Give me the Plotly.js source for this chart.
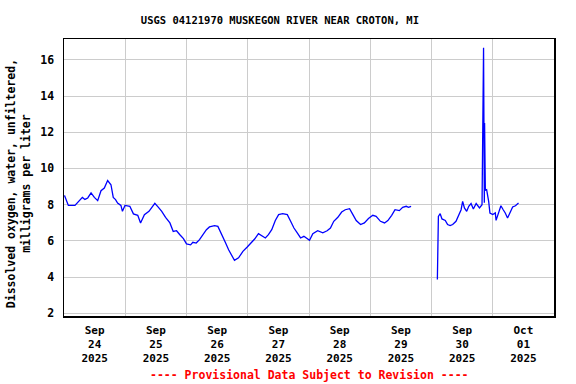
<!DOCTYPE html>
<html>
<head>
<meta charset="utf-8">
<script src="https://cdn.plot.ly/plotly-3.0.1.min.js"></script>
<style>html,body{margin:0;padding:0;background:#fff;}#chart{width:576px;height:384px;}</style>
</head>
<body>
<div id="chart"></div>
<script>
// Hours since 2025-09-24 00:00 and dissolved oxygen (mg/L)
const hours1 = [0.2,1.7,4.3,5.6,7.2,8.2,9.3,10.6,11.9,13.2,14.5,15.8,17.1,18.4,19.3,20.2,21.0,22.3,22.9,23.9,25.8,27.2,28.9,30.0,31.5,33.3,34.6,35.6,37.0,38.3,39.8,41.5,42.8,44.1,45.4,46.8,48.0,49.6,50.5,51.8,53.1,54.4,55.8,57.0,59.0,60.3,61.6,63.2,64.5,65.8,66.8,68.4,70.1,71.8,73.4,74.7,76.2,77.5,78.9,80.1,81.4,82.8,84.1,85.7,87.5,88.8,90.1,91.4,92.7,94.0,95.3,96.2,97.5,99.4,101.4,103.1,104.4,105.7,107.3,108.8,110.2,111.9,113.2,114.5,116.2,117.7,119.3,121.0,122.3,124.0,125.6,126.9,128.4,129.7,131.4,132.7,134.1,135.0,136.0];
const values1 = [8.51,7.96,7.96,8.18,8.40,8.29,8.37,8.65,8.40,8.22,8.77,8.92,9.33,9.10,8.40,8.28,8.09,7.96,7.63,7.96,7.91,7.49,7.41,6.99,7.45,7.63,7.85,8.07,7.85,7.63,7.30,6.99,6.52,6.56,6.34,6.12,5.83,5.78,5.92,5.88,6.07,6.34,6.62,6.77,6.84,6.80,6.44,5.92,5.51,5.14,4.92,5.06,5.42,5.66,5.88,6.10,6.40,6.29,6.16,6.34,6.62,7.13,7.45,7.50,7.45,7.08,6.71,6.44,6.16,6.25,6.10,6.03,6.40,6.56,6.44,6.56,6.71,7.08,7.30,7.59,7.72,7.78,7.45,7.12,6.90,6.99,7.23,7.41,7.35,7.08,6.99,7.12,7.41,7.72,7.67,7.85,7.91,7.85,7.91];
const hours2 = [146.3,146.5,146.7,147.4,148.1,149.4,150.3,151.3,152.3,153.6,154.6,155.6,156.2,156.9,157.8,158.6,159.5,160.4,161.5,162.8,163.8,164.4,164.7,164.8,165.1,165.6,166.4,166.9,168.0,169.0,169.3,170.3,171.2,172.1,172.9,173.8,174.8,175.8,176.9,178.1];
const values2 = [3.86,5.61,7.35,7.50,7.21,7.13,6.90,6.84,6.90,7.08,7.45,7.72,8.18,7.82,7.63,7.91,8.06,7.76,8.06,7.82,8.00,16.66,8.10,12.51,8.80,8.83,8.18,7.54,7.45,7.54,7.13,7.63,7.94,7.72,7.54,7.26,7.54,7.87,7.94,8.09];
const tickLabels = ["Sep<br>24<br>2025","Sep<br>25<br>2025","Sep<br>26<br>2025","Sep<br>27<br>2025","Sep<br>28<br>2025","Sep<br>29<br>2025","Sep<br>30<br>2025","Oct<br>01<br>2025"];
const yTicks = [2,4,6,8,10,12,14,16];

const base = Date.UTC(2025, 8, 24);
const H = 3600000;
const x = hours1.map(h => base + h*H).concat([null], hours2.map(h => base + h*H));
const y = values1.concat([null], values2);
const tickvals = tickLabels.map((_, i) => base + (i*24 + 12)*H);

const FONT = "DejaVu Sans Mono, Liberation Mono, monospace";

const trace = {
  x: x, y: y, type: 'scatter', mode: 'lines',
  line: {color: '#0000ff', width: 1.3},
  connectgaps: false, hoverinfo: 'skip'
};

const layout = {
  width: 576, height: 384,
  margin: {l: 64, r: 22, t: 39, b: 68, pad: 0},
  paper_bgcolor: '#ffffff', plot_bgcolor: '#ffffff',
  showlegend: false,
  font: {family: FONT, size: 11, color: '#000000', weight: 'bold'},
  title: {
    text: 'USGS 04121970 MUSKEGON RIVER NEAR CROTON, MI',
    font: {family: FONT, size: 10.5, color: '#000000', weight: 'bold'},
    x: 0.486, xref: 'container', xanchor: 'center',
    y: 0.947, yref: 'container', yanchor: 'middle'
  },
  xaxis: {
    type: 'date',
    range: [base, base + 8*24*H],
    tickmode: 'array', tickvals: tickvals, ticktext: tickLabels,
    showgrid: false, ticks: '', ticklabelstandoff: 3,
    tickfont: {family: FONT, size: 11, color: '#000000', weight: 'bold'},
    minor: {tickmode: 'linear', tick0: base, dtick: 24*H, showgrid: true, gridcolor: '#cccccc', gridwidth: 1, ticks: ''},
    showline: true, linecolor: '#000000', linewidth: 1.5, mirror: true,
    zeroline: false, fixedrange: true
  },
  yaxis: {
    range: [1.85, 17.15],
    tickmode: 'array', tickvals: yTicks, ticktext: yTicks.map(String),
    showgrid: true, gridcolor: '#cccccc', gridwidth: 1,
    ticks: '', ticklabelstandoff: 6,
    tickfont: {family: FONT, size: 11.5, color: '#000000', weight: 'bold'},
    showline: true, linecolor: '#000000', linewidth: 1.5, mirror: true,
    zeroline: false, fixedrange: true
  },
  annotations: [
    {
      text: 'Dissolved oxygen, water, unfiltered,<br>milligrams per liter',
      xref: 'paper', yref: 'paper', x: -0.0935, y: 0.4765,
      xanchor: 'center', yanchor: 'middle', textangle: -90, showarrow: false,
      font: {family: FONT, size: 11.5, color: '#000000', weight: 'bold'}
    },
    {
      text: '---- Provisional Data Subject to Revision ----',
      xref: 'paper', yref: 'paper', x: 0.5, y: -0.213,
      xanchor: 'center', yanchor: 'middle', showarrow: false,
      font: {family: FONT, size: 11.5, color: '#ff0000', weight: 'bold'}
    }
  ]
};

Plotly.newPlot('chart', [trace], layout, {displayModeBar: false, staticPlot: true});
</script>
</body>
</html>
